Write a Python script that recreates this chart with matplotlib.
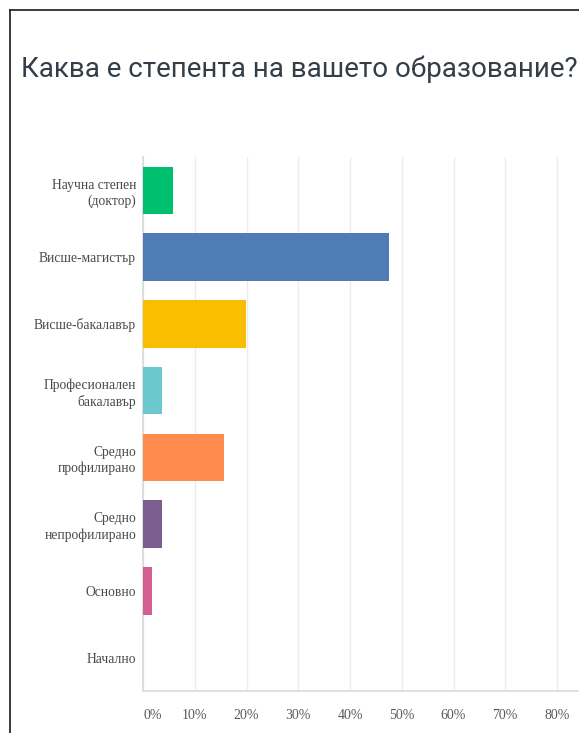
import matplotlib.pyplot as plt
from matplotlib.lines import Line2D

# Отговори на въпроса за образованието (дял от анкетираните, %)
categories = [
    "Научна степен\n(доктор)",
    "Висше-магистър",
    "Висше-бакалавър",
    "Професионален\nбакалавър",
    "Средно\nпрофилирано",
    "Средно\nнепрофилирано",
    "Основно",
    "Начално",
]
shares = [5.8, 47.6, 19.9, 3.7, 15.6, 3.7, 1.8, 0.0]
colors = ["#00BF6F", "#507CB6", "#F9BE00", "#6BC8CD",
          "#FF8B4F", "#7D5E90", "#D25F90", "#A8A8A8"]
tick_values = [0, 10, 20, 30, 40, 50, 60, 70, 80]
tick_labels = ["%d%%" % v for v in tick_values]

W, H = 579, 733
fig = plt.figure(figsize=(W / 100, H / 100), dpi=100)

# рамка около графиката
fig.add_artist(Line2D([9.5 / W, 9.5 / W], [0, (H - 10) / H],
                      color="#2b2b2b", lw=1.3))
fig.add_artist(Line2D([9.5 / W, 1], [(H - 10) / H, (H - 10) / H],
                      color="#2b2b2b", lw=1.3))

fig.text(21 / W, (H - 77) / H, "Каква е степента на вашето образование?",
         fontsize=20, family="Roboto", color="#333e48", va="baseline")

ax = fig.add_axes([143 / W, 42 / H, (W - 143) / W, 534 / H])
y = range(len(categories))
ax.barh(y, shares, height=0.71, color=colors, zorder=3)

ax.set_ylim(len(categories) - 0.5, -0.5)
ax.set_xlim(0, (W - 143) / 5.175)

ax.set_yticks(list(y))
ax.set_yticklabels(categories, family="Liberation Serif", fontsize=9.8,
                   color="#4a4a4a", linespacing=1.3)
ax.set_xticks(tick_values)
ax.set_xticklabels(tick_labels, family="Liberation Serif", fontsize=10,
                   color="#5a5a5a")
ax.get_xticklabels()[0].set_ha("left")
ax.tick_params(axis="y", length=0, pad=5)
ax.tick_params(axis="x", length=0, pad=13)

ax.grid(axis="x", color="#ececec", lw=1, zorder=0)
ax.set_axisbelow(True)
for side in ("top", "right"):
    ax.spines[side].set_visible(False)
for side in ("left", "bottom"):
    ax.spines[side].set_color("#d9d9d9")
    ax.spines[side].set_linewidth(1.2)

fig.savefig("out.png", dpi=100)
